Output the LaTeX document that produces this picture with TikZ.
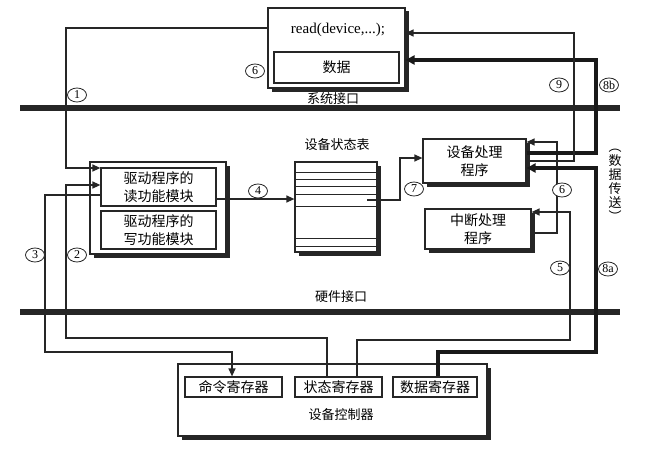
\documentclass[tikz,border=0pt]{standalone}
\usepackage{fontspec}
\setmainfont{Liberation Serif}
\newfontfamily\cjk{Noto Sans CJK SC}
\usetikzlibrary{arrows.meta,shadows,shapes.geometric}
\begin{document}
\begin{tikzpicture}[x=1pt,y=-1pt,
  box/.style={draw=black!85, line width=1.2pt, fill=white, inner sep=0pt, align=center,
    font=\cjk\fontsize{14}{18}\selectfont},
  sbox/.style={box, drop shadow={shadow xshift=3.5pt, shadow yshift=-3.5pt, opacity=1, fill=black!85}},
  wire/.style={draw=black!85, line width=1.3pt},
  arr/.style={wire, -{Triangle[length=8pt,width=7pt]}},
  tarr/.style={draw=black!90, line width=3.3pt, -{Triangle[length=9pt,width=9pt]}},
  num/.style={ellipse, draw=black!85, line width=0.8pt, minimum width=19pt, minimum height=14pt,
    inner sep=0pt, fill=white, font=\fontsize{12}{12}\selectfont},
  lbl/.style={font=\cjk\fontsize{13}{16}\selectfont},
  bar/.style={line width=6.5pt, draw=black!85}
]
\useasboundingbox (0,0) rectangle (648,460);

% interface bars
\draw[bar] (20,108) -- (620,108);
\draw[bar] (20,312) -- (620,312);
\node[lbl] (syslbl) at (333,99) {系统接口};
\node[lbl] (hwlbl) at (341,297) {硬件接口};

% user process box
\node[sbox, minimum width=137pt, minimum height=80pt] (top) at (336.5,48) {};
\node[font=\fontsize{15}{18}\selectfont] (readtxt) at (338,30) {read(device,...);};
\node[box, minimum width=125pt, minimum height=31pt] (data) at (336.5,67.5) {数据};

% driver
\node[sbox, minimum width=136pt, minimum height=92pt] (drv) at (158,208) {};
\node[box, minimum width=115pt, minimum height=38pt] (rd) at (158.5,187) {驱动程序的\\读功能模块};
\node[box, minimum width=115pt, minimum height=38pt] (wr) at (158.5,230) {驱动程序的\\写功能模块};

% device status table
\node[lbl] (tbllbl) at (337,145) {设备状态表};
\node[sbox, minimum width=82pt, minimum height=90pt] (tbl) at (336,207) {};
\foreach \yy in {172,179,186,194,206,238,246}
  \draw[wire, line width=0.9pt] (tbl.west |- 0,\yy) -- (tbl.east |- 0,\yy);

% handlers
\node[sbox, minimum width=103pt, minimum height=44pt] (dev) at (474.5,161) {设备处理\\程序};
\node[sbox, minimum width=106pt, minimum height=40pt] (intr) at (478,229) {中断处理\\程序};

% device controller
\node[sbox, minimum width=309pt, minimum height=72pt] (ctrl) at (332.5,400) {};
\node[box, minimum width=97pt, minimum height=20pt] (cmd) at (233.5,387) {命令寄存器};
\node[box, minimum width=87pt, minimum height=20pt] (sta) at (338.5,387) {状态寄存器};
\node[box, minimum width=84pt, minimum height=20pt] (dat) at (435,387) {数据寄存器};
\node[lbl] (ctrllbl) at (341,415) {设备控制器};

% connectors
\draw[arr] (top.west |- 0,28) -- (66,28) -- (66,168) -- (rd.west |- 0,168);
\draw[arr] (sta.north -| 327,0) -- (327,338) -- (66,338) -- (66,185) -- (rd.west |- 0,185);
\draw[arr] (rd.west |- 0,195) -- (45,195) -- (45,352) -- (232,352) -- (cmd.north -| 232,0);
\draw[arr] (rd.east |- 0,199) -- (tbl.west |- 0,199);
\draw[arr] (sta.north -| 357,0) -- (357,340) -- (570,340) -- (570,212) -- (intr.east |- 0,212);
\draw[arr] (intr.east |- 0,233) -- (557,233) -- (557,142) -- (dev.east |- 0,142);
\coordinate (t7) at (367,200);
\draw[arr] (t7) -- (400,200) -- (400,158) -- (dev.west |- 0,158);
\draw[tarr] (dat.north -| 438,0) -- (438,352) -- (596,352) -- (596,168) -- (dev.east |- 0,168);
\draw[tarr] (dev.east |- 0,153) -- (596,153) -- (596,60) -- (top.east |- 0,60);
\draw[arr] (dev.east |- 0,161) -- (574,161) -- (574,33) -- (top.east |- 0,33);

% step numbers
\node[num] (n1) at (77,95) {1};
\node[num] (n2) at (77,255) {2};
\node[num] (n3) at (35,255) {3};
\node[num] (n4) at (258,191) {4};
\node[num] (n5) at (560,268) {5};
\node[num] (n6a) at (255,71) {6};
\node[num] (n6b) at (562,190) {6};
\node[num] (n7) at (414,189) {7};
\node[num] (n8a) at (608,269) {8a};
\node[num] (n8b) at (609,85) {8b};
\node[num] (n9) at (559,85) {9};

% data transfer label
\node[font=\cjk\fontsize{13}{14}\selectfont, align=center, inner sep=0pt] (dt) at (615,185)
  {︵\\数\\据\\传\\送\\︶};
\end{tikzpicture}
\end{document}
